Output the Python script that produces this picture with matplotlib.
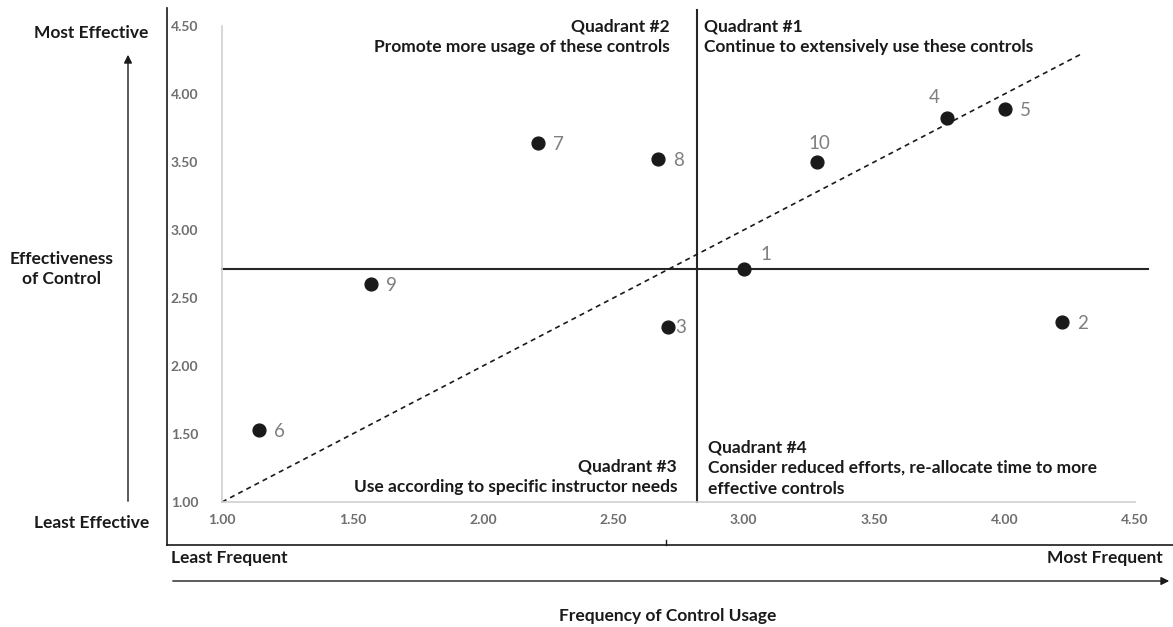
import matplotlib.pyplot as plt
from matplotlib.lines import Line2D

plt.rcParams['font.family'] = ['Lato', 'DejaVu Sans']

# control ids and their scores
ids = ['1', '2', '3', '4', '5', '6', '7', '8', '9', '10']
frequency = [3.00, 4.22, 2.71, 3.78, 4.00, 1.14, 2.21, 2.67, 1.57, 3.28]
effectiveness = [2.71, 2.32, 2.29, 3.82, 3.89, 1.53, 3.64, 3.52, 2.60, 3.50]

# quadrant split lines
x_split = 2.82
y_split = 2.71
diag = [1.0, 4.3]

ticks = [1.0, 1.5, 2.0, 2.5, 3.0, 3.5, 4.0, 4.5]

W, H = 1173, 627
fig = plt.figure(figsize=(W / 100, H / 100), dpi=100)

def fx(px):
    return px / W

def fy(py):
    return 1 - py / H

ax = fig.add_axes([fx(222), fy(502), fx(1135) - fx(222), fy(26) - fy(502)])
ax.set_xlim(1, 4.5)
ax.set_ylim(1, 4.5)
for s in ['top', 'right']:
    ax.spines[s].set_visible(False)
for s in ['left', 'bottom']:
    ax.spines[s].set_color('#d0d0d0')
    ax.spines[s].set_linewidth(1.2)
ax.set_xticks(ticks)
ax.set_yticks(ticks)
ax.tick_params(length=0, labelsize=10, labelcolor='#6e6e6e')
ax.tick_params(axis='x', pad=9)
ax.tick_params(axis='y', pad=17)
ax.set_xticklabels(['%.2f' % t for t in ticks])
ax.set_yticklabels(['%.2f' % t for t in ticks])

# quadrant lines and diagonal
ax.plot([1.0, 4.55], [y_split, y_split], color='#262626', lw=1.5, clip_on=False)
ax.plot([x_split, x_split], [1.0, 4.62], color='#262626', lw=1.5, clip_on=False)
ax.plot(diag, diag, color='#1a1a1a', lw=1.2, ls=(0, (3, 2.5)), clip_on=False)

ax.scatter(frequency, effectiveness, s=85, color='#1a1a1a', zorder=5, clip_on=False)

offsets = {'1': (12, 11), '4': (-13, 15), '10': (-6, 13), '3': (5, -1)}
for i, xv, yv in zip(ids, frequency, effectiveness):
    dx, dy = offsets.get(i, (11, -1))
    ax.annotate(i, (xv, yv), xytext=(dx, dy), textcoords='offset points',
                fontsize=13.5, color='#7f7f7f', va='center', ha='left')

qkw = dict(fontsize=12.5, fontweight='bold', color='#1a1a1a', linespacing=1.38)
fig.text(fx(670), fy(37), 'Quadrant #2\nPromote more usage of these controls',
         ha='right', va='center', **qkw)
fig.text(fx(704), fy(37), 'Quadrant #1\nContinue to extensively use these controls',
         ha='left', va='center', **qkw)
fig.text(fx(677), fy(477), 'Quadrant #3\nUse according to specific instructor needs',
         ha='right', va='center', **qkw)
fig.text(fx(708), fy(468), 'Quadrant #4\nConsider reduced efforts, re-allocate time to more\neffective controls',
         ha='left', va='center', **qkw)

# outer frame (left and bottom) with small tick
fig.add_artist(Line2D([fx(167), fx(167)], [fy(8), fy(545)], color='#1a1a1a', lw=1.2))
fig.add_artist(Line2D([fx(167), fx(1173)], [fy(545), fy(545)], color='#1a1a1a', lw=1.2))
fig.add_artist(Line2D([fx(666), fx(666)], [fy(540), fy(545)], color='#1a1a1a', lw=1))

# outside labels and arrows
lkw = dict(fontsize=12.5, fontweight='bold', color='#1a1a1a')
fig.text(fx(91), fy(33), 'Most Effective', ha='center', va='center', **lkw)
fig.text(fx(62), fy(269), 'Effectiveness\nof Control', ha='center', va='center',
         linespacing=1.35, **lkw)
fig.text(fx(92), fy(523), 'Least Effective', ha='center', va='center', **lkw)
ax.annotate('', xy=(fx(128), fy(52)), xytext=(fx(128), fy(504)), xycoords='figure fraction',
            textcoords='figure fraction', annotation_clip=False,
            arrowprops=dict(arrowstyle='-|>', color='#1a1a1a', lw=1, mutation_scale=12))

fig.text(fx(171), fy(558), 'Least Frequent', ha='left', va='center', **lkw)
fig.text(fx(1163), fy(558), 'Most Frequent', ha='right', va='center', **lkw)
ax.annotate('', xy=(fx(1172), fy(581)), xytext=(fx(170), fy(581)), xycoords='figure fraction',
            textcoords='figure fraction', annotation_clip=False,
            arrowprops=dict(arrowstyle='-|>', color='#1a1a1a', lw=1, mutation_scale=12))
fig.text(fx(668), fy(616), 'Frequency of Control Usage', ha='center', va='center', **lkw)

# make the tick labels bold once the ticks exist
fig.canvas.draw()
plt.setp(ax.get_xticklabels() + ax.get_yticklabels(), fontweight='bold')

fig.savefig('out.png', dpi=100)
